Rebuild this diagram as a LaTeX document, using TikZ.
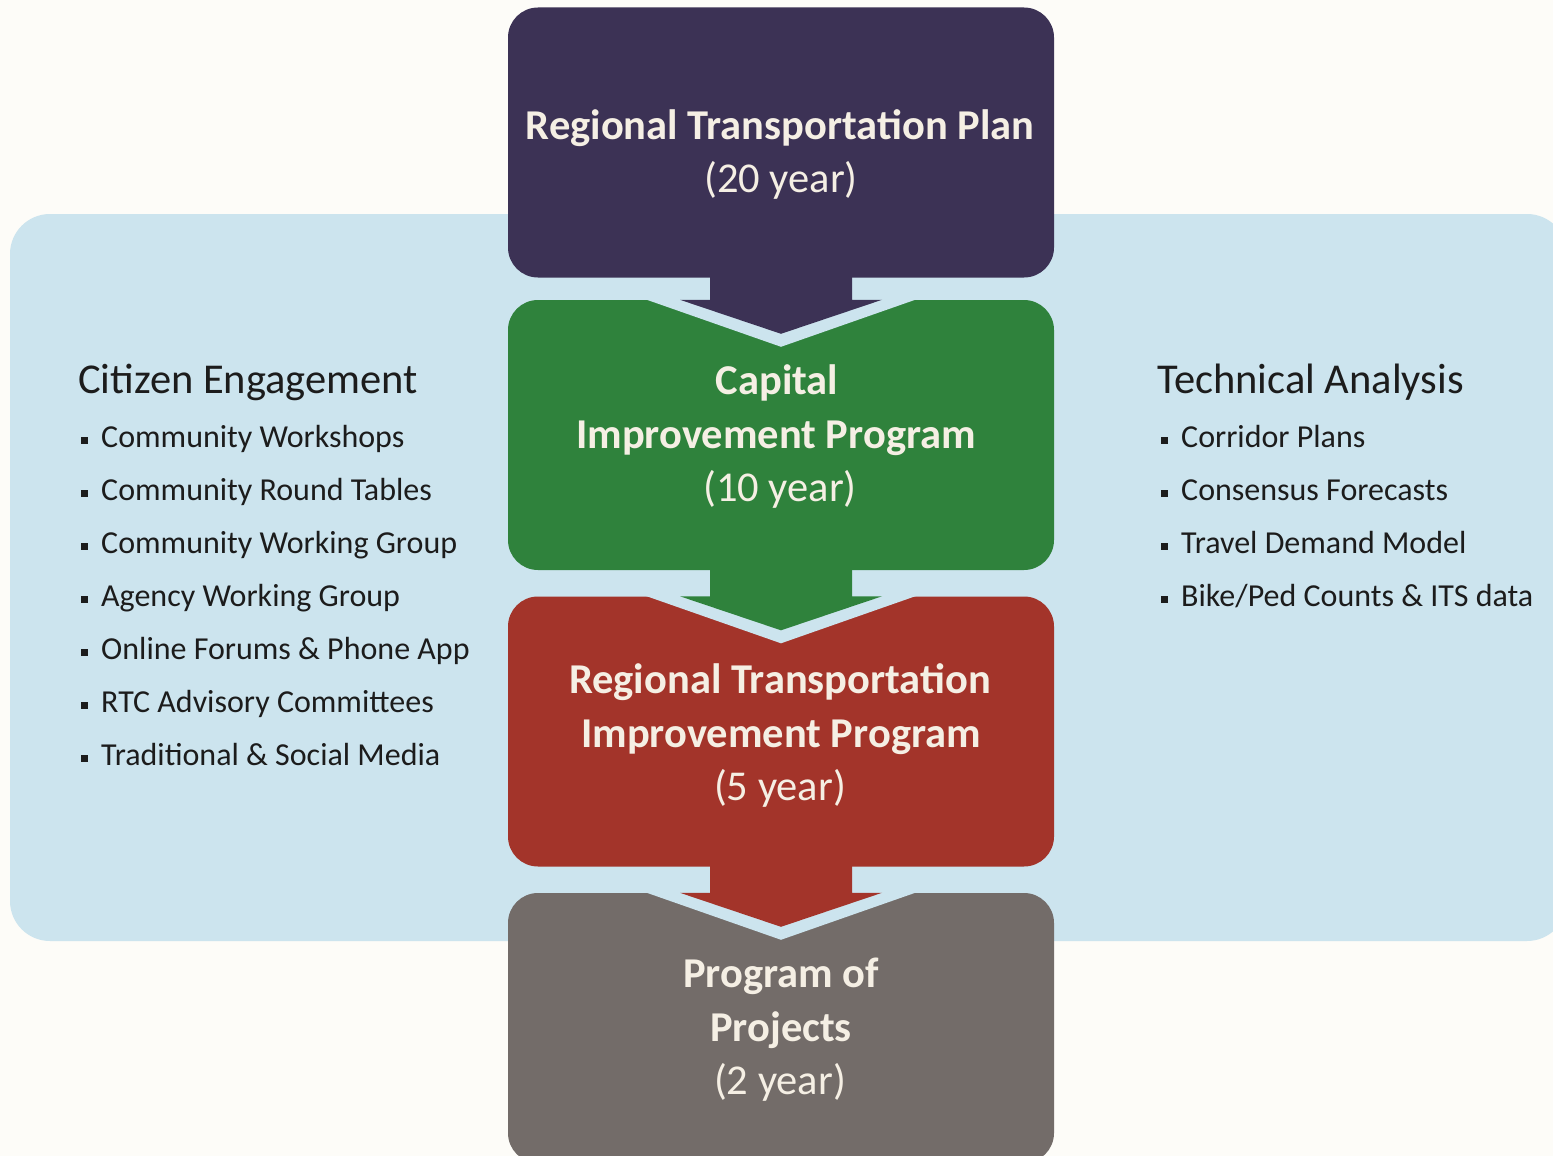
\documentclass[tikz,border=0pt]{standalone}
\usepackage{fontspec}
\setmainfont{Carlito}
\definecolor{pagebg}{HTML}{FDFCF8}
\definecolor{bandc}{HTML}{CCE4EE}
\definecolor{rtpc}{HTML}{3C3255}
\definecolor{cipc}{HTML}{2F823C}
\definecolor{rtipc}{HTML}{A3342A}
\definecolor{popc}{HTML}{736C69}
\definecolor{boxtext}{HTML}{F5EFE4}
\definecolor{listtext}{HTML}{1C1C1C}
\begin{document}
\begin{tikzpicture}[x=1pt,y=-1pt,
  stage/.style={rectangle, rounded corners=30, minimum width=546, minimum height=270, inner sep=0},
  boxtitle/.style={text=boxtext, anchor=base, inner sep=0, font=\fontsize{42.5}{50}\selectfont\bfseries},
  boxsub/.style={text=boxtext, anchor=base, inner sep=0, font=\fontsize{42.5}{50}\selectfont},
  listhead/.style={text=listtext, anchor=base west, inner sep=0, font=\fontsize{42.5}{50}\selectfont},
  listitem/.style={text=listtext, anchor=base west, inner sep=0, font=\fontsize{32}{38}\selectfont},
  bul/.style={rectangle, fill=listtext, minimum size=7, inner sep=0}
]
\useasboundingbox (0,0) rectangle (1553,1156);
\fill[pagebg] (0,0) rectangle (1553,1156);
\fill[bandc, rounded corners=40] (10,214) rectangle (1567,941);

% stages
\node[stage, fill=rtpc] (rtp) at (781,142.5) {};
\node[stage, fill=cipc] (cip) at (781,435) {};
\node[stage, fill=rtipc] (rtip) at (781,731.5) {};
\node[stage, fill=popc] (pop) at (781,1028) {};

% notches and arrows
\foreach \a/\b/\c in {rtp/cip/rtpc, cip/rtip/cipc, rtip/pop/rtipc}{
  \fill[bandc] ([xshift=-137pt,yshift=1pt]\b.north) -- ([yshift=-47pt]\b.north)
     -- ([xshift=137pt,yshift=1pt]\b.north) -- cycle;
  \fill[\c] ([xshift=-71pt,yshift=2pt]\a.south) -- ([xshift=-71pt]\b.north)
     -- ([xshift=-101pt]\b.north) -- ([yshift=-34pt]\b.north)
     -- ([xshift=101pt]\b.north) -- ([xshift=71pt]\b.north)
     -- ([xshift=71pt,yshift=2pt]\a.south) -- cycle;
}

% stage texts
\node[boxtitle] (rtpA) at (780,139) {Regional Transportation Plan};
\node[boxsub] (rtpB) at (781,192) {(20 year)};
\node[boxtitle] (cipA) at (777,394) {Capital};
\node[boxtitle] (cipB) at (776,448) {Improvement Program};
\node[boxsub] (cipC) at (780,501) {(10 year)};
\node[boxtitle] (rtipA) at (780,693) {Regional Transportation};
\node[boxtitle] (rtipB) at (781,747) {Improvement Program};
\node[boxsub] (rtipC) at (780,800) {(5 year)};
\node[boxtitle] (popA) at (781,987) {Program of};
\node[boxtitle] (popB) at (781,1041) {Projects};
\node[boxsub] (popC) at (780,1094) {(2 year)};

% left list
\node[listhead] (ceh) at (78,393) {Citizen Engagement};
\foreach \t [count=\i] in {Community Workshops, Community Round Tables, Community Working Group,
  Agency Working Group, Online Forums \& Phone App, RTC Advisory Committees, Traditional \& Social Media}{
  \node[listitem] (ce\i) at (101,{447+53*(\i-1)}) {\t};
  \node[bul] (ceb\i) at (84,{440.5+53*(\i-1)}) {};
}

% right list
\node[listhead] (tah) at (1157,393) {Technical Analysis};
\foreach \t [count=\i] in {Corridor Plans, Consensus Forecasts, Travel Demand Model, Bike/Ped Counts \& ITS data}{
  \node[listitem] (ta\i) at (1181,{447+53*(\i-1)}) {\t};
  \node[bul] (tab\i) at (1164,{440.5+53*(\i-1)}) {};
}
\end{tikzpicture}
\end{document}
